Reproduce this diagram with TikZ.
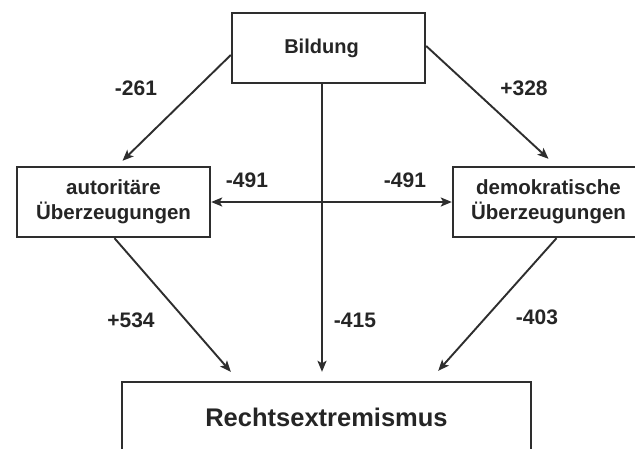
\documentclass[tikz,border=0pt]{standalone}
\usepackage{fontspec}
\setmainfont{Liberation Sans}
\usetikzlibrary{arrows.meta}
\definecolor{ink}{HTML}{2E2E2E}
\definecolor{txt}{HTML}{252525}
\begin{document}
\begin{tikzpicture}[x=1pt,y=-1pt,
  box/.style={draw=ink,line width=2.4pt,rectangle,inner sep=0pt,fill=white},
  arr/.style={draw=ink,line width=1.9pt,-{Stealth[length=11pt,width=9pt,inset=2.5pt]}},
  darr/.style={draw=ink,line width=1.9pt,{Stealth[length=11pt,width=9pt,inset=2.5pt]}-{Stealth[length=11pt,width=9pt,inset=2.5pt]}},
  coef/.style={text=txt,font=\fontsize{21}{24}\selectfont\bfseries,inner sep=0pt},
  boxtext/.style={text=txt,font=\fontsize{20.5}{25}\selectfont\bfseries,align=center,inner sep=0pt}]
\useasboundingbox (0,0) rectangle (635,448);
\fill[white] (0,0) rectangle (635,448);

% boxes
\node[box,minimum width=193pt,minimum height=70pt] (bild) at (328.5,48) {};
\node[text=txt,font=\fontsize{20}{24}\selectfont\bfseries,inner sep=0pt] (bildtxt) at (321.5,48) {Bildung};
\node[box,minimum width=193pt,minimum height=70pt,boxtext] (auto) at (113.5,202) {autoritäre\\Überzeugungen};
\node[box,minimum width=191pt,minimum height=70pt,boxtext] (demo) at (548.5,202) {demokratische\\Überzeugungen};
\node[box,minimum width=409pt,minimum height=70pt,text=txt,font=\fontsize{25.5}{30}\selectfont\bfseries] (rechts) at (326.5,417) {Rechtsextremismus};

% paths
\draw[arr] ([yshift=-7pt]bild.west) -- ([xshift=9pt,yshift=5pt]auto.north);
\draw[arr] ([yshift=2pt]bild.east) -- ([yshift=7pt]demo.north);
\draw[arr] ([xshift=-6.5pt]bild.south) -- ([xshift=-4.5pt,yshift=9pt]rechts.north);
\draw[darr] (auto.east) -- (demo.west);
\draw[arr] ([xshift=1pt]auto.south) -- ([xshift=110pt,yshift=9pt]rechts.north west);
\draw[arr] ([xshift=8pt]demo.south) -- ([xshift=-94pt,yshift=10pt]rechts.north east);

% coefficients
\node[coef] (c1) at (136,88) {-261};
\node[coef] (c2) at (524,88) {+328};
\node[coef] (c3) at (247,180) {-491};
\node[coef] (c4) at (405,180) {-491};
\node[coef] (c5) at (131,320) {+534};
\node[coef] (c6) at (355,320) {-415};
\node[coef] (c7) at (537,317) {-403};
\end{tikzpicture}
\end{document}
